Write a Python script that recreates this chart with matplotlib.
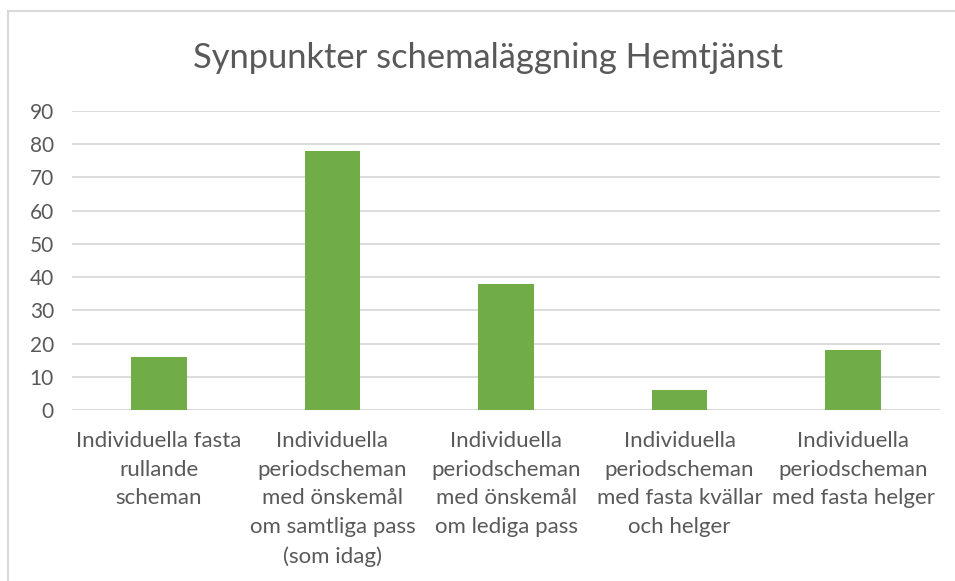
import matplotlib.pyplot as plt
from matplotlib.patches import Rectangle

# data
categories = [
    "Individuella fasta\nrullande\nscheman",
    "Individuella\nperiodscheman\nmed önskemål\nom samtliga pass\n(som idag)",
    "Individuella\nperiodscheman\nmed önskemål\nom lediga pass",
    "Individuella\nperiodscheman\nmed fasta kvällar\noch helger",
    "Individuella\nperiodscheman\nmed fasta helger",
]
values = [16, 78, 38, 6, 18]
yticks = list(range(0, 100, 10))

text_col = "#595959"
grid_col = "#D9D9D9"
bar_col = "#70AD47"

plt.rcParams["font.family"] = ["Lato", "DejaVu Sans"]

fig = plt.figure(figsize=(9.55, 5.81), dpi=100)
ax = fig.add_axes([72 / 955, 1 - 410 / 581, 868 / 955, 299 / 581])

x = list(range(len(values)))
ax.bar(x, values, width=0.32, color=bar_col, zorder=3)

ax.set_xlim(-0.5, len(values) - 0.5)
ax.set_ylim(0, 90)
ax.set_yticks(yticks)
ax.set_yticklabels([str(t) for t in yticks])
ax.set_xticks(x)
ax.set_xticklabels(categories, linespacing=1.55)

ax.grid(axis="y", color=grid_col, linewidth=1.3, zorder=0)
for s in ax.spines.values():
    s.set_visible(False)
ax.axhline(0, color=grid_col, linewidth=1.3, zorder=1)

ax.tick_params(axis="y", length=0, pad=13, labelsize=15, labelcolor=text_col)
ax.tick_params(axis="x", length=0, pad=15, labelsize=16, labelcolor=text_col)

fig.text(488 / 955, 1 - 58 / 581, "Synpunkter schemaläggning Hemtjänst",
         ha="center", va="center", fontsize=24.8, color=text_col)

# chart border, cut off at the right and bottom like the screenshot
fig.patches.append(Rectangle((8 / 955, -0.05), 1.0, 1 - 11 / 581 + 0.05,
                             transform=fig.transFigure, fill=False,
                             edgecolor=grid_col, linewidth=1.5))

fig.savefig("out.png", dpi=100)
